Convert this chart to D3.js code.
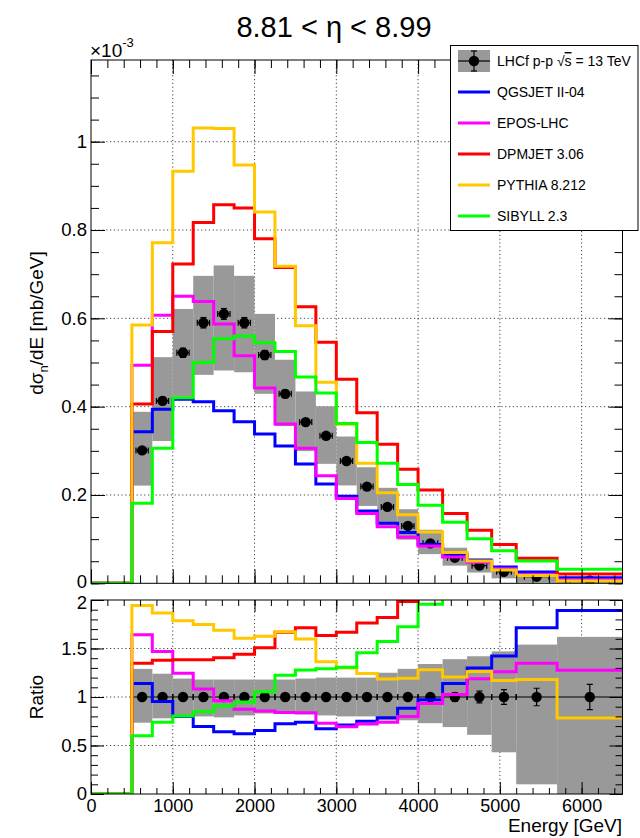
<!DOCTYPE html>
<html>
<head>
<meta charset="utf-8">
<script src="https://cdn.jsdelivr.net/npm/d3@7"></script>
<style>
  html, body { margin: 0; padding: 0; background: #fff; }
  svg { display: block; }
</style>
</head>
<body>
<svg id="chart" width="640" height="838"></svg>
<script>
// Neutron energy spectrum, 8.81 < eta < 8.99 (values in units of 1e-3 mb/GeV)
const binEdges = [500, 750, 1000, 1250, 1500, 1750, 2000, 2250, 2500, 2750, 3000,
                  3250, 3500, 3750, 4000, 4300, 4600, 4900, 5200, 5700, 6500];

// LHCf measurement
const lhcf = [0.301, 0.413, 0.522, 0.590, 0.610, 0.590, 0.517, 0.429, 0.365, 0.334,
              0.277, 0.219, 0.173, 0.130, 0.0905, 0.058, 0.040, 0.026, 0.015, 0.0065];
// relative statistical uncertainty
const statRel = [0.02, 0.02, 0.02, 0.02, 0.02, 0.02, 0.02, 0.02, 0.02, 0.02,
                 0.025, 0.025, 0.03, 0.03, 0.035, 0.045, 0.06, 0.077, 0.09, 0.13];
// total uncertainty band, relative to the measured value
const bandHi = [1.29, 1.24, 1.19, 1.18, 1.18, 1.18, 1.18, 1.18, 1.19, 1.20,
                1.20, 1.20, 1.25, 1.29, 1.34, 1.39, 1.42, 1.47, 1.54, 1.62];
const bandLo = [0.735, 0.78, 0.81, 0.80, 0.79, 0.81, 0.83, 0.83, 0.82, 0.81,
                0.80, 0.80, 0.76, 0.76, 0.73, 0.69, 0.61, 0.43, 0.10, 0.0];

// Model predictions
const qgsjet = [0.343, 0.394, 0.417, 0.411, 0.391, 0.366, 0.338, 0.311, 0.270, 0.225,
                0.197, 0.164, 0.136, 0.115, 0.088, 0.066, 0.052, 0.037, 0.0257, 0.0123];
const epos   = [0.494, 0.607, 0.650, 0.638, 0.587, 0.515, 0.442, 0.361, 0.306, 0.2436,
                0.192, 0.158, 0.128, 0.104, 0.0845, 0.0595, 0.0475, 0.0328, 0.0202, 0.0083];
const dpmjet = [0.406, 0.570, 0.723, 0.817, 0.857, 0.850, 0.780, 0.715, 0.626, 0.546,
                0.462, 0.386, 0.315, 0.258, 0.211, 0.158, 0.120, 0.088, 0.0566, 0.021];
const pythia = [0.585, 0.771, 0.933, 1.031, 1.030, 0.947, 0.841, 0.718, 0.583, 0.455,
                0.360, 0.272, 0.205, 0.155, 0.116, 0.070, 0.0505, 0.0304, 0.0177, 0.0051];
const sibyll = [0.181, 0.306, 0.420, 0.500, 0.554, 0.560, 0.545, 0.525, 0.467, 0.431,
                0.362, 0.319, 0.272, 0.224, 0.177, 0.138, 0.101, 0.0738, 0.0505, 0.0317];

const modelNames  = ["QGSJET II-04", "EPOS-LHC", "DPMJET 3.06", "PYTHIA 8.212", "SIBYLL 2.3"];
const modelColors = ["#0000ff", "#ff00ff", "#ff0000", "#ffc800", "#00ff00"];
const modelValues = [qgsjet, epos, dpmjet, pythia, sibyll];
const dataLabel = "LHCf p-p ";

// Axis ticks
const energyTicks = [0, 1000, 2000, 3000, 4000, 5000, 6000];
const energyMinor = d3.range(0, 33).map(i => i * 200);
const xsecTicks = [0, 0.2, 0.4, 0.6, 0.8, 1.0];
const xsecMinor = d3.range(0, 24).map(i => i * 0.05);
const ratioTicks = [0, 0.5, 1, 1.5, 2];
const ratioMinor = d3.range(0, 21).map(i => i * 0.1);

const FONT = '"Liberation Sans", Arial, Helvetica, sans-serif';
const svg = d3.select("#chart");

// Layout
const L = 91, R = 622.5;
const topPanel = { top: 60, bottom: 583.3 };
const ratPanel = { top: 600, bottom: 794 };

const x = d3.scaleLinear().domain([0, 6500]).range([L, R]);
const yTop = d3.scaleLinear().domain([0, 1.185]).range([topPanel.bottom, topPanel.top]);
const yRat = d3.scaleLinear().domain([0, 2]).range([ratPanel.bottom, ratPanel.top]);

const defs = svg.append("defs");
defs.append("clipPath").attr("id", "clipTop").append("rect")
  .attr("x", L).attr("y", topPanel.top).attr("width", R - L).attr("height", topPanel.bottom - topPanel.top);
defs.append("clipPath").attr("id", "clipRat").append("rect")
  .attr("x", L).attr("y", ratPanel.top).attr("width", R - L).attr("height", ratPanel.bottom - ratPanel.top);

const bins = lhcf.map((v, i) => ({ lo: binEdges[i], hi: binEdges[i + 1], c: (binEdges[i] + binEdges[i + 1]) / 2, v, i }));

function grid(g, y, yVals, panel) {
  const gg = g.append("g").attr("stroke", "#444").attr("stroke-width", 1).attr("stroke-dasharray", "1.2,2.6");
  energyTicks.filter(t => t > 0).forEach(t => {
    gg.append("line").attr("x1", x(t)).attr("x2", x(t)).attr("y1", panel.top).attr("y2", panel.bottom);
  });
  yVals.filter(t => t > 0 && y(t) > panel.top + 1).forEach(t => {
    gg.append("line").attr("x1", L).attr("x2", R).attr("y1", y(t)).attr("y2", y(t));
  });
}

function stepPoints(vals) {
  const pts = [[0, 0], [binEdges[0], 0]];
  vals.forEach((v, i) => { pts.push([binEdges[i], v]); pts.push([binEdges[i + 1], v]); });
  return pts;
}

function axes(g, y, panel, yMajor, yMinor, opts) {
  const fix = sel => { sel.select(".domain").remove(); sel.attr("font-family", FONT); };
  // bottom
  g.append("g").attr("transform", `translate(0,${panel.bottom})`)
    .call(d3.axisBottom(x).tickValues(energyMinor).tickSize(-opts.xMinorLen).tickFormat("")).call(fix);
  const bx = g.append("g").attr("transform", `translate(0,${panel.bottom})`)
    .call(d3.axisBottom(x).tickValues(energyTicks).tickSize(-opts.xMajorLen).tickPadding(opts.xPad)
      .tickFormat(opts.xLabels ? d3.format("d") : "")).call(fix);
  bx.attr("font-size", 18);
  bx.selectAll("text").attr("fill", "#000");
  // top
  g.append("g").attr("transform", `translate(0,${panel.top})`)
    .call(d3.axisTop(x).tickValues(energyMinor).tickSize(-opts.xMinorLen).tickFormat("")).call(fix);
  g.append("g").attr("transform", `translate(0,${panel.top})`)
    .call(d3.axisTop(x).tickValues(energyTicks).tickSize(-opts.xMajorLen).tickFormat("")).call(fix);
  // left
  g.append("g").attr("transform", `translate(${L},0)`)
    .call(d3.axisLeft(y).tickValues(yMinor).tickSize(-opts.yMinorLen).tickFormat("")).call(fix);
  const ly = g.append("g").attr("transform", `translate(${L},0)`)
    .call(d3.axisLeft(y).tickValues(yMajor).tickSize(-opts.yMajorLen).tickPadding(4).tickFormat(d3.format("~g"))).call(fix);
  ly.attr("font-size", 18.5);
  ly.selectAll("text").attr("fill", "#000");
  // right
  g.append("g").attr("transform", `translate(${R},0)`)
    .call(d3.axisRight(y).tickValues(yMinor).tickSize(-opts.yMinorLen).tickFormat("")).call(fix);
  g.append("g").attr("transform", `translate(${R},0)`)
    .call(d3.axisRight(y).tickValues(yMajor).tickSize(-opts.yMajorLen).tickFormat("")).call(fix);
  g.selectAll(".tick line").attr("stroke", "#000").attr("stroke-width", 1);
  g.append("rect").attr("x", L).attr("y", panel.top).attr("width", R - L).attr("height", panel.bottom - panel.top)
    .attr("fill", "none").attr("stroke", "#000").attr("stroke-width", 1);
  return ly;
}

const BAND = "#999999";

// ---------- upper panel ----------
const gT = svg.append("g");
grid(gT, yTop, xsecTicks, topPanel);
const gTc = gT.append("g").attr("clip-path", "url(#clipTop)");

gTc.append("g").selectAll("rect").data(bins).join("rect")
  .attr("x", d => x(d.lo)).attr("width", d => x(d.hi) - x(d.lo))
  .attr("y", d => yTop(d.v * bandHi[d.i]))
  .attr("height", d => yTop(d.v * bandLo[d.i]) - yTop(d.v * bandHi[d.i]))
  .attr("fill", BAND);

// data points with error bars
const cap = 3;
const dT = gTc.append("g").attr("stroke", "#000").attr("stroke-width", 1.2);
bins.forEach(d => {
  const ex = 0.3 * (d.hi - d.lo);
  const err = d.v * statRel[d.i];
  const cx = x(d.c), cy = yTop(d.v);
  dT.append("line").attr("x1", x(d.c - ex)).attr("x2", x(d.c + ex)).attr("y1", cy).attr("y2", cy);
  dT.append("line").attr("x1", x(d.c - ex)).attr("x2", x(d.c - ex)).attr("y1", cy - cap).attr("y2", cy + cap);
  dT.append("line").attr("x1", x(d.c + ex)).attr("x2", x(d.c + ex)).attr("y1", cy - cap).attr("y2", cy + cap);
  dT.append("line").attr("x1", cx).attr("x2", cx).attr("y1", yTop(d.v + err)).attr("y2", yTop(d.v - err));
  dT.append("line").attr("x1", cx - cap).attr("x2", cx + cap).attr("y1", yTop(d.v + err)).attr("y2", yTop(d.v + err));
  dT.append("line").attr("x1", cx - cap).attr("x2", cx + cap).attr("y1", yTop(d.v - err)).attr("y2", yTop(d.v - err));
});
gTc.append("g").selectAll("circle").data(bins).join("circle")
  .attr("cx", d => x(d.c)).attr("cy", d => yTop(d.v)).attr("r", 5.2).attr("fill", "#000");

const lineTop = d3.line().x(p => x(p[0])).y(p => yTop(p[1]));
modelValues.forEach((vals, k) => {
  gTc.append("path").attr("d", lineTop(stepPoints(vals)))
    .attr("fill", "none").attr("stroke", modelColors[k]).attr("stroke-width", 3)
    .attr("stroke-linejoin", "miter");
});

const topLabels = axes(gT, yTop, topPanel, xsecTicks, xsecMinor,
  { xMajorLen: 14, xMinorLen: 8, yMajorLen: 14, yMinorLen: 8, xLabels: false, xPad: 5 });
// lift the zero label slightly so it clears the ratio panel's top label
topLabels.selectAll(".tick").filter(d => d === 0).select("text").attr("dy", "0.2em");

// exponent label
svg.append("text").attr("x", 90).attr("y", 57).attr("font-family", FONT).attr("font-size", 19)
  .text("\u00d710")
  .append("tspan").attr("font-size", 13).attr("dy", -10).text("-3");

// y-axis title
const yt = svg.append("text").attr("font-family", FONT).attr("font-size", 19)
  .attr("text-anchor", "middle")
  .attr("transform", "translate(43,323) rotate(-90)");
yt.append("tspan").text("d\u03c3");
yt.append("tspan").attr("font-size", 13).attr("dy", 5).text("n");
yt.append("tspan").attr("dy", -5).text("/dE [mb/GeV]");

// title
svg.append("text").attr("x", 334).attr("y", 37).attr("text-anchor", "middle")
  .attr("font-family", FONT).attr("font-size", 29).text("8.81 < \u03b7 < 8.99");

// ---------- ratio panel ----------
const gR = svg.append("g");
grid(gR, yRat, ratioTicks, ratPanel);
const gRc = gR.append("g").attr("clip-path", "url(#clipRat)");
gRc.append("g").selectAll("rect").data(bins).join("rect")
  .attr("x", d => x(d.lo)).attr("width", d => x(d.hi) - x(d.lo))
  .attr("y", d => yRat(bandHi[d.i]))
  .attr("height", d => yRat(bandLo[d.i]) - yRat(bandHi[d.i]))
  .attr("fill", BAND);

const dR = gRc.append("g").attr("stroke", "#000").attr("stroke-width", 1.2);
bins.forEach(d => {
  const cy = yRat(1), cx = x(d.c);
  dR.append("line").attr("x1", x(d.lo)).attr("x2", x(d.hi)).attr("y1", cy).attr("y2", cy);
  dR.append("line").attr("x1", x(d.lo)).attr("x2", x(d.lo)).attr("y1", cy - cap).attr("y2", cy + cap);
  dR.append("line").attr("x1", x(d.hi)).attr("x2", x(d.hi)).attr("y1", cy - cap).attr("y2", cy + cap);
  const e = statRel[d.i];
  dR.append("line").attr("x1", cx).attr("x2", cx).attr("y1", yRat(1 + e)).attr("y2", yRat(1 - e));
  dR.append("line").attr("x1", cx - cap).attr("x2", cx + cap).attr("y1", yRat(1 + e)).attr("y2", yRat(1 + e));
  dR.append("line").attr("x1", cx - cap).attr("x2", cx + cap).attr("y1", yRat(1 - e)).attr("y2", yRat(1 - e));
});
gRc.append("g").selectAll("circle").data(bins).join("circle")
  .attr("cx", d => x(d.c)).attr("cy", yRat(1)).attr("r", 5.2).attr("fill", "#000");

const lineRat = d3.line().x(p => x(p[0])).y(p => yRat(p[1]));
modelValues.forEach((vals, k) => {
  const ratio = vals.map((v, i) => v / lhcf[i]);
  gRc.append("path").attr("d", lineRat(stepPoints(ratio)))
    .attr("fill", "none").attr("stroke", modelColors[k]).attr("stroke-width", 3);
});

const ratLabels = axes(gR, yRat, ratPanel, ratioTicks, ratioMinor,
  { xMajorLen: 12, xMinorLen: 6, yMajorLen: 13, yMinorLen: 7, xLabels: true, xPad: 5 });
ratLabels.selectAll(".tick").filter(d => d === 2).select("text").attr("dy", "0.45em");

svg.append("text").attr("x", 622).attr("y", 832).attr("text-anchor", "end")
  .attr("font-family", FONT).attr("font-size", 19).text("Energy [GeV]");
svg.append("text").attr("font-family", FONT).attr("font-size", 19).attr("text-anchor", "middle")
  .attr("transform", "translate(43,697) rotate(-90)").text("Ratio");

// ---------- legend ----------
const lg = svg.append("g").attr("font-family", FONT).attr("font-size", 14);
lg.append("rect").attr("x", 450.5).attr("y", 45.5).attr("width", 187.5).attr("height", 185)
  .attr("fill", "#fff").attr("stroke", "#000").attr("stroke-width", 1);
const rowY = i => 61 + i * 31;
const sx0 = 458, sx1 = 490, tx = 497;
// data entry
lg.append("rect").attr("x", sx0).attr("y", rowY(0) - 11).attr("width", sx1 - sx0).attr("height", 22).attr("fill", BAND);
lg.append("line").attr("x1", sx0).attr("x2", sx1).attr("y1", rowY(0)).attr("y2", rowY(0)).attr("stroke", "#000").attr("stroke-width", 1.2);
const mx = (sx0 + sx1) / 2;
lg.append("line").attr("x1", mx).attr("x2", mx).attr("y1", rowY(0) - 10).attr("y2", rowY(0) + 10).attr("stroke", "#000").attr("stroke-width", 1.2);
[-10, 10].forEach(o => lg.append("line").attr("x1", mx - cap).attr("x2", mx + cap)
  .attr("y1", rowY(0) + o).attr("y2", rowY(0) + o).attr("stroke", "#000").attr("stroke-width", 1.2));
lg.append("circle").attr("cx", mx).attr("cy", rowY(0)).attr("r", 5.2).attr("fill", "#000");
const t0 = lg.append("text").attr("x", tx).attr("y", rowY(0)).attr("dy", "0.36em");
t0.append("tspan").text(dataLabel + "\u221a");
t0.append("tspan").attr("text-decoration", "overline").style("text-decoration", "overline").text("s");
t0.append("tspan").text(" = 13 TeV");
// model entries
modelNames.forEach((name, k) => {
  const yy = rowY(k + 1);
  lg.append("line").attr("x1", sx0).attr("x2", sx1).attr("y1", yy).attr("y2", yy)
    .attr("stroke", modelColors[k]).attr("stroke-width", 3);
  lg.append("text").attr("x", tx).attr("y", yy).attr("dy", "0.36em").text(name);
});
</script>
</body>
</html>
